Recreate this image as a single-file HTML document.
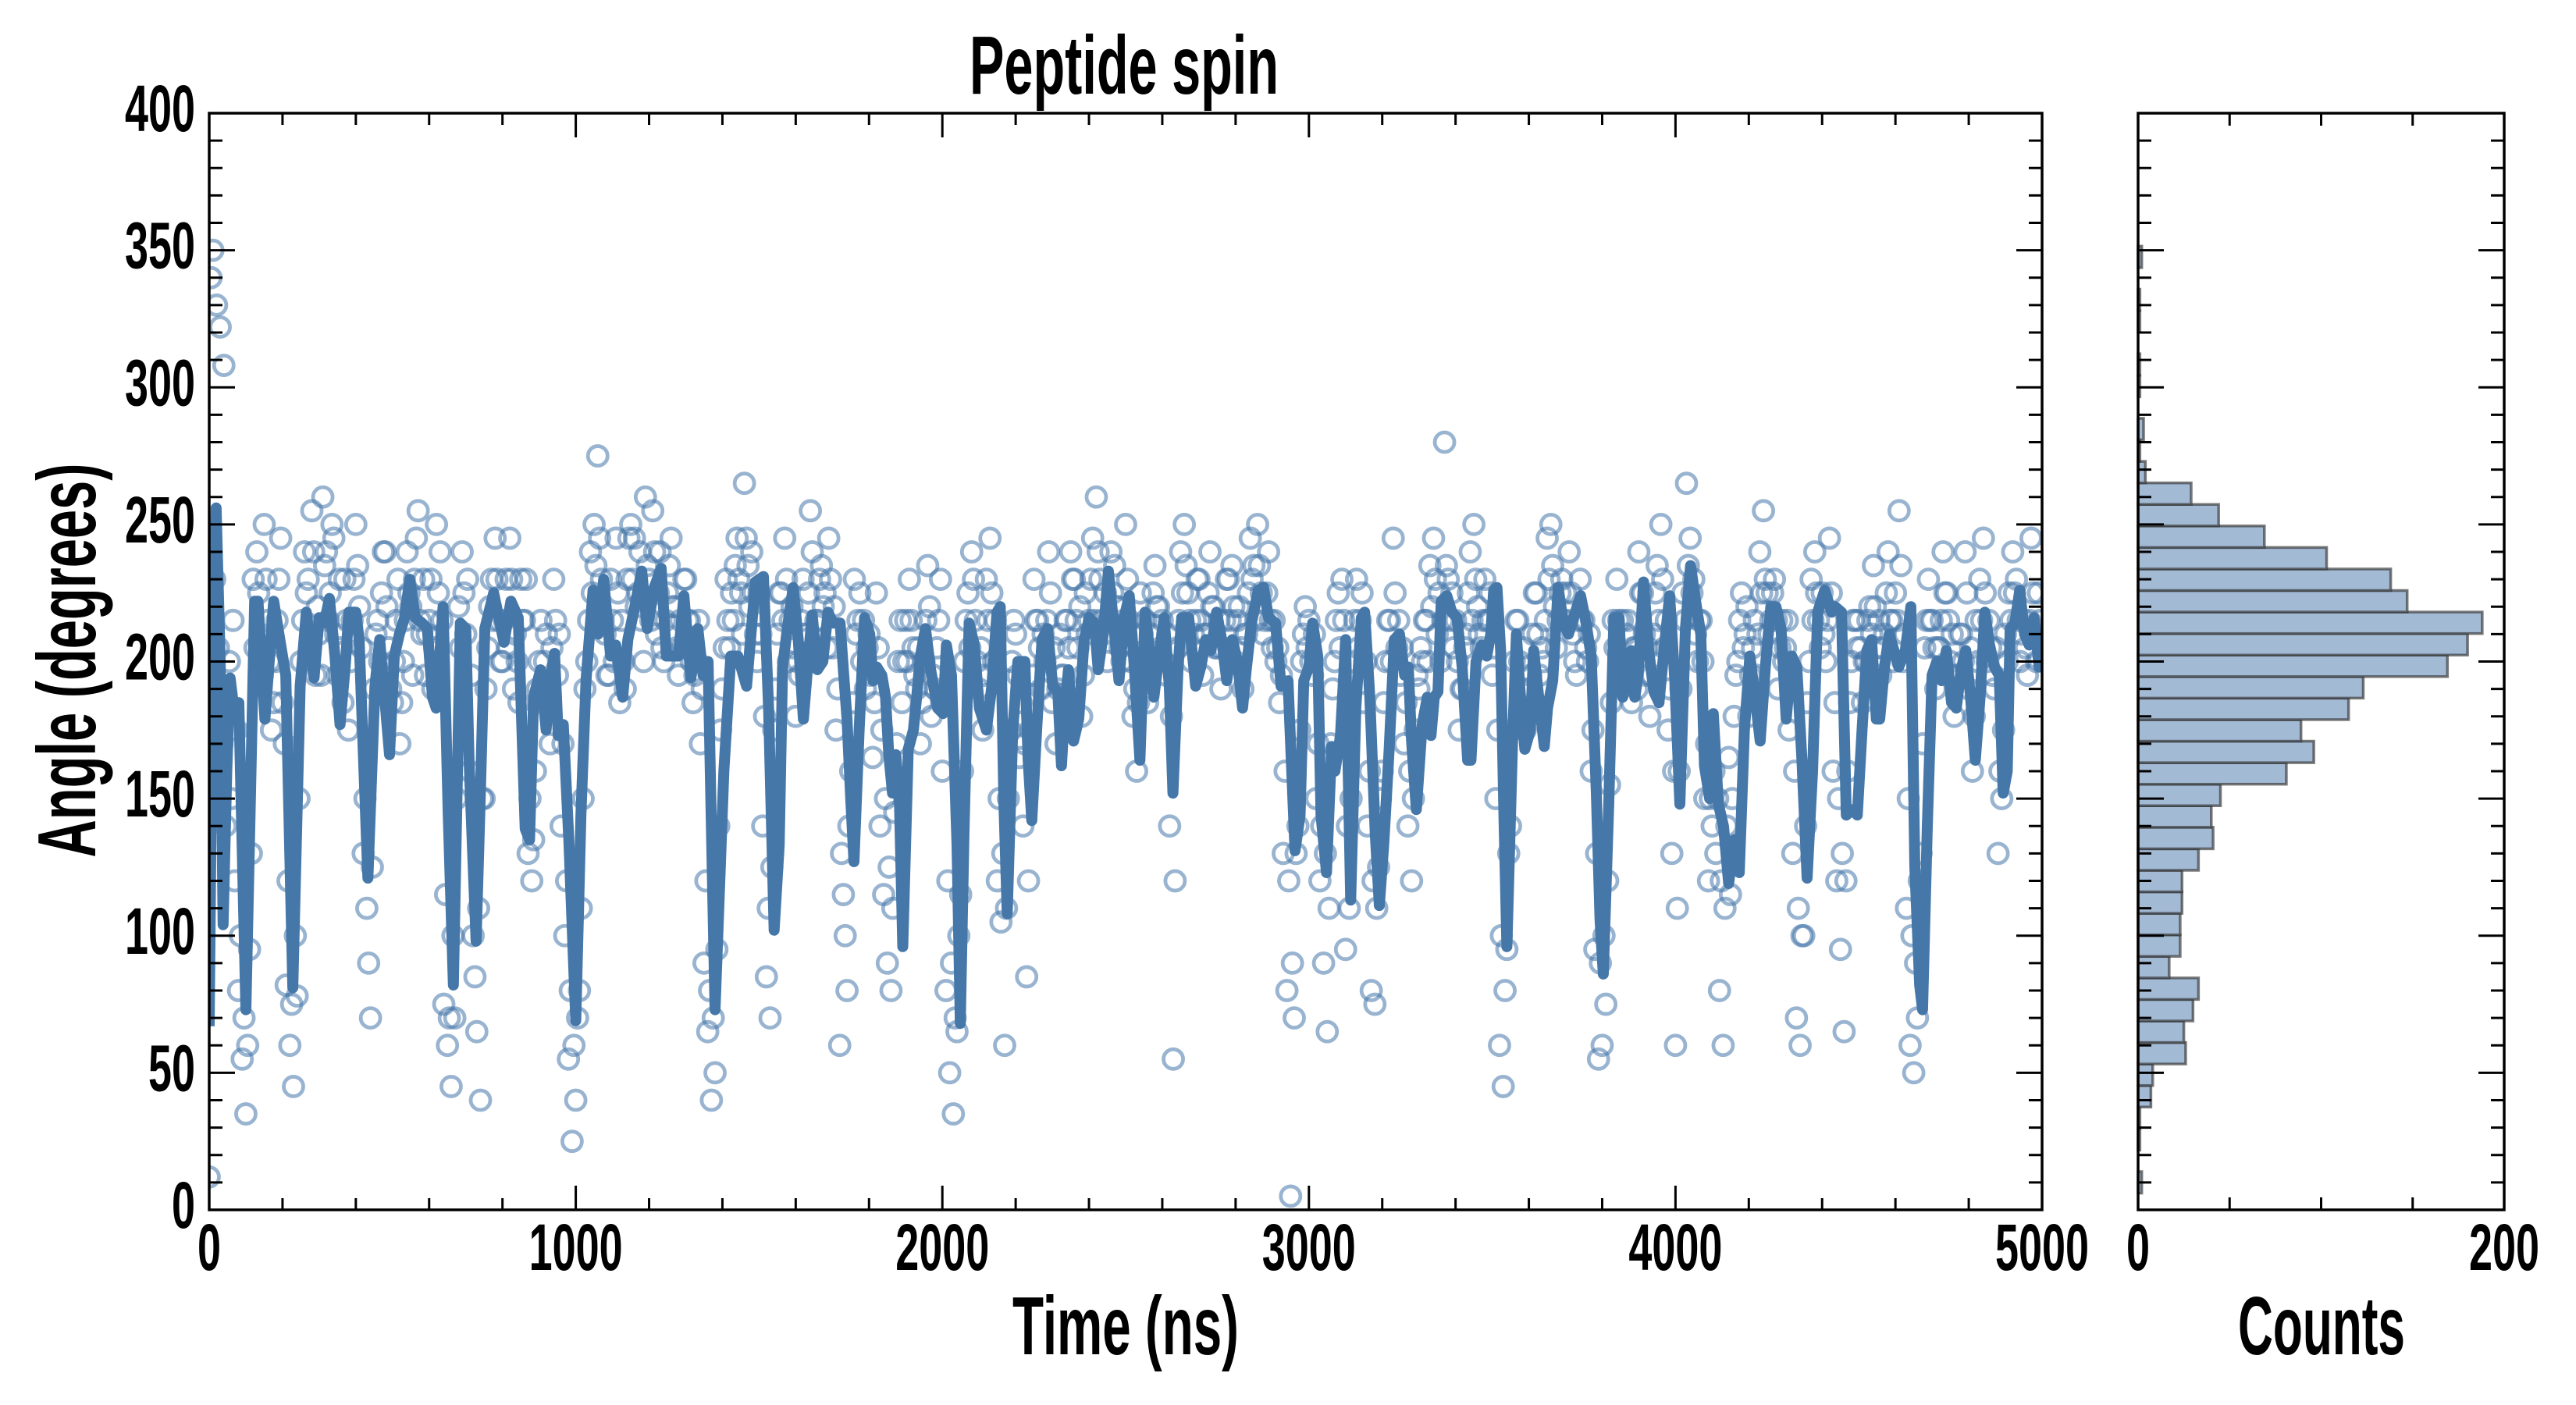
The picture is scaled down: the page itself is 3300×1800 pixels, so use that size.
<!DOCTYPE html>
<html><head><meta charset="utf-8"><title>Peptide spin</title>
<style>
html,body{margin:0;padding:0;background:#fff;}
svg{display:block;}
text{font-family:"Liberation Sans Narrow","Liberation Sans",sans-serif;font-weight:bold;fill:#000;}
</style></head>
<body>
<svg id="chart" xmlns="http://www.w3.org/2000/svg" width="3300" height="1800" viewBox="0 0 3300 1800">
<rect x="0" y="0" width="3300" height="1800" fill="#fff"/>
<g id="main-plot"></g>
<g id="hist-plot"></g>
<text x="1440" y="120" font-size="106" text-anchor="middle" textLength="396" lengthAdjust="spacingAndGlyphs">Peptide spin</text>
<text x="1442" y="1735" font-size="106" text-anchor="middle" textLength="290" lengthAdjust="spacingAndGlyphs">Time (ns)</text>
<text x="2974" y="1735" font-size="106" text-anchor="middle" textLength="214" lengthAdjust="spacingAndGlyphs">Counts</text>
<text transform="translate(122,846) rotate(-90)" x="0" y="0" font-size="106" text-anchor="middle" textLength="505" lengthAdjust="spacingAndGlyphs">Angle (degrees)</text>
</svg>
<script>
// ---- data ----
const xTickLabels = ["0","1000","2000","3000","4000","5000"];
const xTickValues = [0,1000,2000,3000,4000,5000];
const yTickLabels = ["0","50","100","150","200","250","300","350","400"];
const yTickValues = [0,50,100,150,200,250,300,350,400];
const histXTickLabels = ["0","200"];
const histXTickValues = [0,200];
const scatterStep = 10;
const scatterValues = [
12,350,330,322,308,185,150,120,80,55,
35,95,230,240,210,250,215,175,200,230,
185,82,60,45,78,200,240,230,255,195,
210,260,240,225,245,195,205,230,175,215,
250,220,130,110,70,190,215,225,240,205,
185,215,170,200,240,220,230,255,210,195,
215,190,250,240,75,60,45,70,220,240,
210,160,100,65,40,150,205,230,245,215,
200,230,245,190,200,230,215,130,120,160,
200,185,210,170,230,195,140,100,55,25,
40,80,150,200,240,250,275,230,210,195,
215,245,185,200,230,250,245,225,215,260,
230,255,210,240,200,225,245,220,195,205,
230,215,185,200,170,90,65,40,50,140,
190,230,205,215,245,225,265,235,240,210,
225,140,85,70,175,210,225,245,200,220,
180,195,230,210,255,200,215,235,225,245,
205,175,60,115,80,160,230,215,200,190,
210,165,225,140,115,90,80,145,200,185,
215,230,205,190,170,200,235,180,190,215,
160,80,50,35,65,115,200,225,240,215,
190,175,230,245,200,120,105,60,150,200,
210,165,140,85,175,230,215,190,200,240,
185,170,210,195,215,240,230,205,180,225,
215,245,260,230,210,200,240,235,220,200,
250,215,180,160,225,200,185,210,235,220,
215,195,140,55,205,240,250,225,200,215,
230,195,210,240,220,205,190,215,230,235,
200,220,190,210,245,235,250,225,215,240,
205,200,185,130,80,5,70,140,200,220,
215,195,150,120,90,65,170,200,225,230,
95,110,200,230,215,185,140,80,75,125,
160,200,215,245,205,195,170,140,120,175,
190,200,215,235,245,210,200,280,230,225,
215,175,190,210,240,250,220,205,230,215,
195,150,60,45,95,140,200,215,190,175,
180,210,225,195,200,245,250,220,215,230,
225,240,210,195,230,215,200,160,95,55,
60,75,155,215,230,200,195,215,185,205,
240,225,195,180,210,235,250,205,175,130,
60,160,225,265,245,230,200,215,150,120,
140,130,80,60,140,115,180,200,225,210,
180,205,195,240,255,225,215,230,190,215,
205,175,130,70,60,100,185,230,240,215,
225,200,245,160,120,95,65,160,200,215,
215,185,200,220,235,205,195,210,240,215,
225,255,200,110,60,50,70,130,205,230,
215,190,205,240,225,200,180,195,210,240,
190,160,215,230,245,200,205,190,130,150,
210,225,240,230,200,215,195,245,210,225
];
const scatterValues2 = [
340,230,205,170,140,200,215,175,100,70,
60,130,205,225,195,230,200,185,215,245,
170,120,75,100,150,215,225,205,240,220,
195,235,215,250,210,230,185,215,200,230,
235,205,150,90,125,210,200,240,220,190,
200,230,185,215,225,195,245,215,230,210,
230,205,225,215,115,70,100,150,205,225,
230,195,85,110,150,190,220,215,230,200,
215,205,230,210,185,215,230,150,135,190,
215,200,190,205,215,210,170,120,80,60,
70,110,190,215,225,235,245,215,195,230,
200,225,215,190,245,230,220,240,200,235,
215,240,225,205,215,235,220,205,215,230,
215,200,195,215,190,120,80,70,95,175,
205,215,225,235,230,210,245,220,225,200,
210,180,110,125,190,225,215,230,215,205,
200,215,210,225,240,215,230,220,205,230,
220,190,130,100,140,185,210,225,215,205,
195,185,205,175,150,125,110,170,215,200,
200,215,195,205,185,215,220,195,205,230,
185,120,90,70,100,160,215,205,230,200,
205,195,215,225,215,150,130,110,175,215,
195,185,170,120,195,215,205,210,215,225,
205,190,195,215,205,230,215,220,195,210,
230,215,240,215,225,215,225,220,205,215,
230,200,190,185,210,215,200,225,220,205,
200,210,180,120,215,225,235,215,210,230,
215,210,225,220,205,215,205,230,215,220,
215,205,210,225,230,215,235,210,225,215,
215,205,195,160,120,90,130,175,210,205,
200,210,170,140,130,110,190,215,205,215,
140,150,215,205,225,200,160,120,110,150,
185,215,200,225,215,205,185,160,150,195,
205,215,200,220,230,225,215,235,215,205,
200,190,205,225,215,230,210,215,215,225,
205,175,100,80,130,175,215,200,205,190,
195,225,210,205,215,230,235,205,225,215,
215,225,200,215,215,205,210,175,130,90,
100,120,185,205,215,215,210,200,205,190,
225,210,205,195,225,215,230,215,190,160,
110,190,215,235,225,210,215,200,170,150,
160,150,120,110,165,150,195,215,205,220,
195,215,210,225,230,210,225,215,205,200,
215,190,160,110,100,140,200,215,225,205,
210,215,225,185,150,130,120,185,215,205,
205,200,215,210,220,215,205,225,215,200,
215,235,210,150,100,90,120,170,215,215,
205,205,215,225,215,210,195,210,200,225,
205,180,200,215,225,215,195,205,160,175,
200,215,225,215,210,205,215,225,200,215
];
const lineTimes = [0,8,19,30,38,48,57,71,81,100,124,133,152,176,195,209,228,248,265,286,300,314,328,343,357,371,381,400,409,433,452,465,481,492,505,519,533,547,562,581,595,609,619,638,652,666,685,700,709,728,738,752,776,790,804,823,843,862,874,885,904,919,928,942,952,966,981,1000,1014,1028,1047,1061,1076,1095,1109,1128,1142,1161,1180,1195,1214,1233,1247,1266,1280,1295,1314,1333,1347,1361,1380,1404,1423,1442,1466,1490,
1512,1526,1541,1555,1564,1579,1593,1607,1621,1636,1645,1659,1674,1688,1702,1721,1731,1740,1750,1759,1773,1788,1802,1811,1821,1835,1845,1854,1864,1873,1883,1892,1907,1921,1930,1940,1954,1968,1987,2002,2011,2025,2040,2049,2059,2073,2087,2101,2120,2135,2149,2158,2168,2177,2192,2206,2225,2234,2244,2258,2272,2287,2301,2315,2325,2334,2344,2358,2372,2387,2401,2415,2425,2439,2453,2467,2482,2496,2510,2524,2539,2553,2567,2577,2591,2605,2619,2629,2643,2653,2672,2691,2705,2719,2733,2748,2762,2776,2791,2805,2819,2829,2843,2862,2876,2890,2909,2924,2943,
2962,2976,2986,3000,3010,3024,3033,3048,3062,3071,3086,3100,3114,3128,3143,3152,3166,3181,3192,3204,3219,3233,3247,3261,3271,3280,3293,3309,3323,3333,3342,3352,3361,3376,3390,3404,3418,3433,3442,3456,3471,3485,3496,3504,3513,3523,3532,3540,3556,3566,3575,3589,3604,3613,3627,3642,3651,3665,3680,3694,3708,3727,3741,3756,3770,3784,3794,3803,3818,3832,3846,3856,3870,3879,3889,3898,3913,3927,3941,3955,3970,3984,3998,4012,4027,4041,4055,4069,4079,4093,4103,4117,4131,4145,4160,4174,4188,4203,4217,4231,4245,4260,4274,4288,4302,4317,4331,4345,4359,4374,4388,4407,4426,
4435,4453,4466,4483,4496,4509,4522,4535,4548,4557,4570,4583,4596,4609,4627,4642,4653,4666,4674,4687,4700,4713,4726,4739,4753,4766,4779,4792,4805,4818,4831,4844,4857,4870,4883,4894,4905,4913,4926,4939,4952,4965,4978,4992,5000];
const lineValues = [67,185,256,200,104,160,194,179,185,73,222,222,179,222,206,195,81,191,218,194,216,214,223,202,177,198,218,218,208,121,191,208,183,166,202,210,216,230,216,214,212,187,183,220,144,82,214,212,164,98,144,212,225,216,207,222,216,139,135,187,197,175,191,203,173,177,135,69,144,193,226,210,230,202,206,187,208,220,233,212,227,234,202,202,202,224,194,212,195,200,73,160,202,202,191,229,
231,183,102,133,198,214,227,208,179,204,217,197,200,218,214,214,195,179,150,127,175,216,210,193,198,195,187,166,152,166,148,96,168,175,187,202,212,197,183,181,206,195,133,68,137,214,206,183,175,191,218,220,148,108,175,200,200,164,142,177,208,212,191,189,162,183,197,171,179,208,216,214,197,210,233,214,193,216,224,197,164,218,202,187,202,216,191,152,198,216,216,191,198,208,204,218,208,193,208,200,183,197,214,226,227,216,214,191,193,
131,144,193,198,214,202,144,123,169,160,173,208,113,183,216,218,187,137,111,133,168,208,210,195,198,171,146,177,187,173,187,189,222,224,218,216,198,164,164,200,206,202,210,226,227,204,144,96,173,210,191,168,175,204,187,169,183,193,227,214,210,218,224,214,202,152,106,86,148,216,216,187,193,204,187,195,229,204,189,185,206,224,193,148,212,235,222,210,162,150,181,148,140,119,135,123,175,202,187,171,198,220,220,212,179,202,198,164,121,160,218,226,218,
220,218,144,146,144,175,204,208,179,179,198,210,204,198,204,220,125,82,73,140,195,200,193,204,185,183,197,204,187,164,187,218,206,198,195,152,160,212,214,226,210,206,216,198,205];
const histBinStart = 6.1;
const histBinWidth = 7.85;
const histCounts = [2,0,1,1,7,8,26,25,30,33,17,23,23,24,24,33,41,40,45,81,96,89,115,123,169,180,188,147,138,103,69,44,29,4,1,3,0,1,1,0,1,1,0,2];

// ---- layout ----
const NS = "http://www.w3.org/2000/svg";
const M = {l:268, r:2616, t:145, b:1550};
const H = {l:2739, r:3208};
const X_MAX = 5000, Y_MAX = 400, C_MAX = 200;
const xs = t => M.l + (t / X_MAX) * (M.r - M.l);
const ys = v => M.b - (v / Y_MAX) * (M.b - M.t);
const cs = c => H.l + (c / C_MAX) * (H.r - H.l);
const LINE_COLOR = "#4577a9";

function mk(tag, attrs, parent) {
  const el = document.createElementNS(NS, tag);
  for (const k in attrs) el.setAttribute(k, attrs[k]);
  parent.appendChild(el);
  return el;
}
const main = document.getElementById("main-plot");
const hist = document.getElementById("hist-plot");

const defs = mk("defs", {}, main);
const cp = mk("clipPath", {id:"clipMain"}, defs);
mk("rect", {x:M.l, y:M.t, width:M.r-M.l, height:M.b-M.t}, cp);

// scatter
const sg = mk("g", {"clip-path":"url(#clipMain)"}, main);


function dot(t, v) {
  const c = mk("circle", {cx:xs(t), cy:ys(v), r:12.5, fill:"none", stroke:LINE_COLOR, "stroke-opacity":0.55, "stroke-width":4.8}, sg);
  
  
}
scatterValues.forEach((v, i) => dot(i * scatterStep, v));
scatterValues2.forEach((v, i) => dot(i * scatterStep + scatterStep / 2, v));

// line
let d = "";
lineTimes.forEach((t, i) => { d += (i ? "L" : "M") + xs(t).toFixed(1) + "," + ys(lineValues[i]).toFixed(1); });
const ln = mk("path", {d:d, fill:"none", stroke:LINE_COLOR, "stroke-width":14, "stroke-linejoin":"round", "clip-path":"url(#clipMain)"}, main);



// histogram bars
histCounts.forEach((c, i) => {
  if (c <= 0) return;
  const v0 = histBinStart + i * histBinWidth, v1 = v0 + histBinWidth;
  const r = mk("rect", {x:H.l, y:ys(v1), width:cs(c)-H.l, height:ys(v0)-ys(v1), fill:"#a3bad5", stroke:"#333", "stroke-opacity":0.65, "stroke-width":3.5}, hist);
  
  
});

// ticks
function tick(parent, x1, y1, x2, y2, name) {
  const l = mk("line", {x1:x1, y1:y1, x2:x2, y2:y2, stroke:"#000", "stroke-width":3}, parent);
  
  
}
const tg = mk("g", {}, main);


for (let t = 0; t <= X_MAX; t += 200) {
  const len = (t % 1000 === 0) ? 31 : 15;
  tick(tg, xs(t), M.b, xs(t), M.b - len, 'x-tick');
  tick(tg, xs(t), M.t, xs(t), M.t + len, 'x-tick-top');
}
for (let v = 0; v <= Y_MAX; v += 10) {
  const len = (v % 50 === 0) ? 33 : 17;
  tick(tg, M.l, ys(v), M.l + len, ys(v), 'y-tick');
  tick(tg, M.r, ys(v), M.r - len, ys(v), 'y-tick-right');
  tick(hist, H.l, ys(v), H.l + len, ys(v), 'hist-y-tick');
  tick(hist, H.r, ys(v), H.r - len, ys(v), 'hist-y-tick-right');
}
for (let c = 50; c < C_MAX; c += 50) {
  tick(hist, cs(c), M.b, cs(c), M.b - 16, 'hist-x-tick');
  tick(hist, cs(c), M.t, cs(c), M.t + 16, 'hist-x-tick-top');
}

// frames
const f1 = mk("rect", {x:M.l, y:M.t, width:M.r-M.l, height:M.b-M.t, fill:"none", stroke:"#000", "stroke-width":3.5}, main);


const f2 = mk("rect", {x:H.l, y:M.t, width:H.r-H.l, height:M.b-M.t, fill:"none", stroke:"#000", "stroke-width":3.5}, hist);



// tick labels
function label(parent, x, y, s, anchor, name) {
  const el = mk("text", {x:x, y:y, "font-size":84, "text-anchor":anchor, textLength:30*s.length, lengthAdjust:"spacingAndGlyphs"}, parent);
  el.textContent = s;
  
  
}
xTickValues.forEach((t, i) => label(main, xs(t), 1627, xTickLabels[i], "middle", 'x-tick-label'));
yTickValues.forEach((v, i) => label(main, 250, ys(v) + 23, yTickLabels[i], "end", 'y-tick-label'));
histXTickValues.forEach((c, i) => label(hist, cs(c), 1627, histXTickLabels[i], "middle", 'hist-x-tick-label'));
</script>
</body></html>
